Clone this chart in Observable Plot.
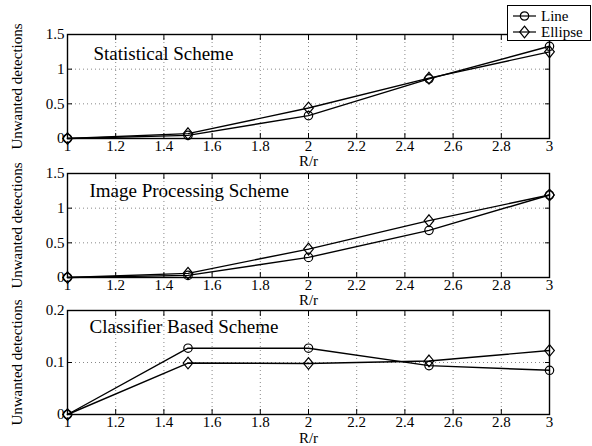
<!DOCTYPE html>
<html>
<head>
<meta charset="utf-8">
<script src="https://cdn.jsdelivr.net/npm/d3@7"></script>
<script src="https://cdn.jsdelivr.net/npm/@observablehq/plot@0.6"></script>
<style>
  html, body { margin: 0; padding: 0; background: #fff; overflow: hidden; }
  #wrap { position: relative; width: 592px; height: 446px; font-family: "Liberation Serif", "DejaVu Serif", serif; }
  #wrap svg.panel { position: absolute; left: 0; overflow: visible; font-family: "Liberation Serif", serif !important; }
  #wrap svg.panel text, #wrap svg.panel g { font-family: "Liberation Serif", serif !important; }
  #legend { position: absolute; left: 507px; top: 5px; width: 84px; height: 36px; border: 1px solid #000; background: #fff; box-sizing: border-box; z-index: 10; font-size: 15px; font-family: "Liberation Serif", serif; }
  #legend .row { position: absolute; left: 0; height: 16px; }
  #legend .row span { position: absolute; left: 33px; line-height: 16px; white-space: nowrap; }
</style>
</head>
<body>
<div id="wrap"></div>
<script>
// ---- data ----
const xs = [1, 1.5, 2, 2.5, 3];
const seriesNames = ["Line", "Ellipse"];
const statLine = [0, 0.045, 0.33, 0.86, 1.33];
const statEllipse = [0, 0.07, 0.44, 0.87, 1.25];
const imgLine = [0, 0.03, 0.29, 0.68, 1.19];
const imgEllipse = [0, 0.06, 0.41, 0.82, 1.19];
const clsLine = [0, 0.1275, 0.1275, 0.094, 0.085];
const clsEllipse = [0, 0.099, 0.098, 0.103, 0.123];
const panelTitles = ["Statistical Scheme", "Image Processing Scheme", "Classifier Based Scheme"];
const xTicks = [1, 1.2, 1.4, 1.6, 1.8, 2, 2.2, 2.4, 2.6, 2.8, 3];
const yTicksA = [0, 0.5, 1, 1.5];
const yTicksC = [0, 0.1, 0.2];
const xLabel = "R/r";
const yLabel = "Unwanted detections";

// MATLAB-like diamond (slightly taller than wide)
const diamondSym = {
  draw(context, size) {
    const r = Math.sqrt(size / Math.PI);
    const w = r * 1.15, h = r * 1.4;
    context.moveTo(0, -h); context.lineTo(w, 0); context.lineTo(0, h); context.lineTo(-w, 0); context.closePath();
  }
};

function toRows(line, ellipse) {
  const rows = [];
  xs.forEach((x, i) => rows.push({x, y: line[i], s: seriesNames[0]}));
  xs.forEach((x, i) => rows.push({x, y: ellipse[i], s: seriesNames[1]}));
  return rows;
}

const panels = [
  {rows: toRows(statLine, statEllipse), title: panelTitles[0], yDomain: [0, 1.5], yTicks: yTicksA, frameTop: 34, tdx: 26, tdy: 11.5, ldy: 23},
  {rows: toRows(imgLine, imgEllipse), title: panelTitles[1], yDomain: [0, 1.5], yTicks: yTicksA, frameTop: 172.7, tdx: 22, tdy: 9.5, ldy: 23},
  {rows: toRows(clsLine, clsEllipse), title: panelTitles[2], yDomain: [0, 0.2], yTicks: yTicksC, frameTop: 310, tdx: 22, tdy: 9.2, ldy: 24}
];

const wrap = document.getElementById("wrap");
const W = 592, mL = 67, mR = 43, mT = 34, mB = 34, frameH = 104;
const FONT = "Liberation Serif";

panels.forEach(p => {
  const fmt = d => String(d);
  const chart = Plot.plot({
    width: W,
    height: mT + frameH + mB,
    marginLeft: mL, marginRight: mR, marginTop: mT, marginBottom: mB,
    style: {background: "transparent", "font-family": FONT, color: "#000", overflow: "visible"},
    x: {domain: [1, 3]},
    y: {domain: p.yDomain},
    marks: [
      Plot.gridX(xTicks, {stroke: "#444", strokeOpacity: 0.8, strokeDasharray: "1,3", strokeWidth: 0.8}),
      Plot.gridY(p.yTicks, {stroke: "#444", strokeOpacity: 0.8, strokeDasharray: "1,3", strokeWidth: 0.8}),
      // inward ticks on all four sides
      Plot.axisX(xTicks, {anchor: "bottom", tickSize: -5, text: null, label: null, strokeWidth: 1}),
      Plot.axisX(xTicks, {anchor: "top", tickSize: -5, text: null, label: null, strokeWidth: 1}),
      Plot.axisY(p.yTicks, {anchor: "left", tickSize: -5, text: null, label: null, strokeWidth: 1}),
      Plot.axisY(p.yTicks, {anchor: "right", tickSize: -5, text: null, label: null, strokeWidth: 1}),
      // tick labels
      Plot.axisX(xTicks, {anchor: "bottom", tickSize: 0, tickPadding: 2, tickFormat: fmt, fontSize: 15, fontFamily: FONT, label: null}),
      Plot.axisY(p.yTicks, {anchor: "left", tickSize: 0, tickPadding: 3, tickFormat: fmt, fontSize: 15, fontFamily: FONT, label: null}),
      Plot.frame({stroke: "#000", strokeWidth: 1.4}),
      Plot.line(p.rows, {x: "x", y: "y", z: "s", stroke: "#000", strokeWidth: 1.4}),
      Plot.dot(p.rows.filter(d => d.s === seriesNames[0]), {x: "x", y: "y", r: 4.2, symbol: "circle", stroke: "#000", fill: "none", strokeWidth: 1.2}),
      Plot.dot(p.rows.filter(d => d.s === seriesNames[1]), {x: "x", y: "y", r: 4.2, symbol: diamondSym, stroke: "#000", fill: "none", strokeWidth: 1.2}),
      Plot.text([p.title], {frameAnchor: "top-left", text: d => d, dx: p.tdx, dy: p.tdy, textAnchor: "start", lineAnchor: "top", fontSize: 19, fontFamily: FONT, fill: "#000"}),
      Plot.text([xLabel], {frameAnchor: "bottom", text: d => d, dy: p.ldy, lineAnchor: "middle", fontSize: 15, fontFamily: FONT, fill: "#000"}),
      Plot.text([yLabel], {frameAnchor: "left", text: d => d, dx: -50, rotate: -90, lineAnchor: "middle", textAnchor: "middle", fontSize: 15, fontFamily: FONT, fill: "#000"})
    ]
  });
  chart.classList.add("panel");
  chart.style.top = (p.frameTop - mT) + "px";
  wrap.appendChild(chart);
});

// legend
const legend = document.createElement("div");
legend.id = "legend";
const NS = "http://www.w3.org/2000/svg";
seriesNames.forEach((name, i) => {
  const row = document.createElement("div");
  row.className = "row";
  row.style.top = (i === 0 ? 2 : 18) + "px";
  row.style.width = "82px";
  const svg = document.createElementNS(NS, "svg");
  svg.setAttribute("width", "30"); svg.setAttribute("height", "16");
  svg.style.position = "absolute"; svg.style.left = "0"; svg.style.top = "0";
  const ln = document.createElementNS(NS, "line");
  ln.setAttribute("x1", 5); ln.setAttribute("x2", 28); ln.setAttribute("y1", 8); ln.setAttribute("y2", 8);
  ln.setAttribute("stroke", "#000"); ln.setAttribute("stroke-width", 1.2);
  svg.appendChild(ln);
  let m;
  if (i === 0) {
    m = document.createElementNS(NS, "circle");
    m.setAttribute("cx", 16.5); m.setAttribute("cy", 8); m.setAttribute("r", 4.2);
  } else {
    m = document.createElementNS(NS, "path");
    m.setAttribute("d", "M16.5,2.1L21.3,8L16.5,13.9L11.7,8Z");
  }
  m.setAttribute("fill", "none"); m.setAttribute("stroke", "#000"); m.setAttribute("stroke-width", 1.2);
  svg.appendChild(m);
  row.appendChild(svg);
  const t = document.createElement("span");
  t.textContent = name;
  row.appendChild(t);
  legend.appendChild(row);
});
wrap.appendChild(legend);
</script>
</body>
</html>
